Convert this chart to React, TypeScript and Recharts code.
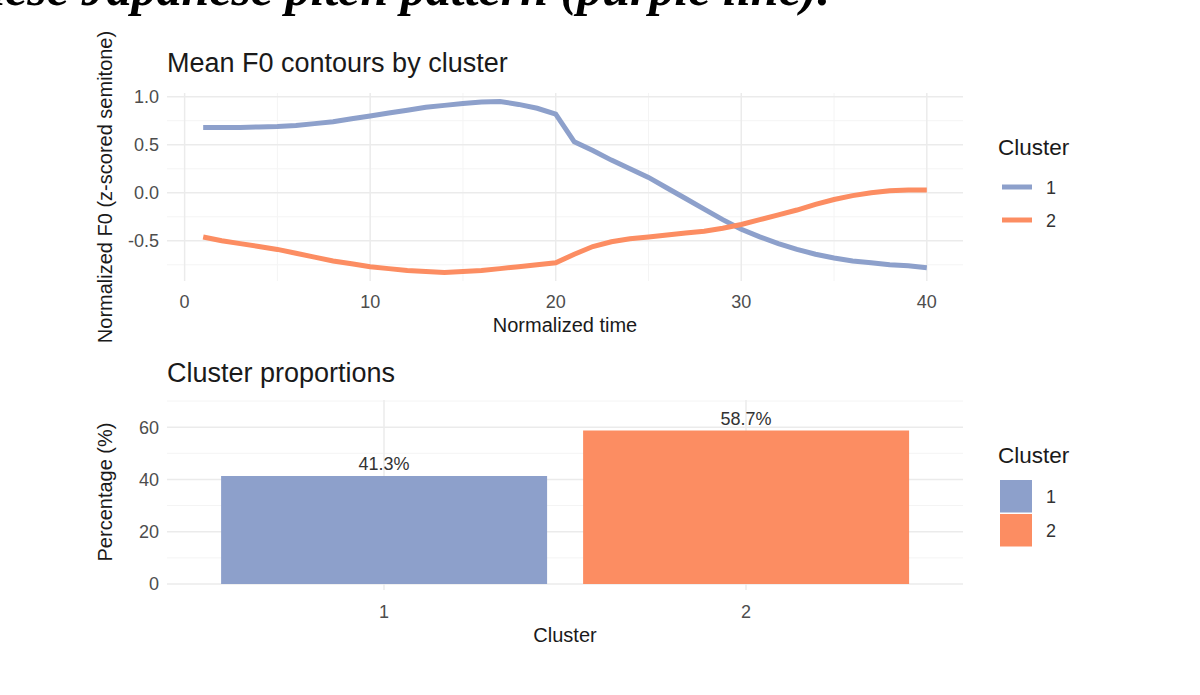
import React from 'react';
import { LineChart, Line, XAxis, YAxis, CartesianGrid, BarChart, Bar, Cell, LabelList } from 'recharts';

const FONT = '"Liberation Sans", Arial, Helvetica, sans-serif';

const timePoints = [1, 2, 3, 4, 5, 6, 7, 8, 9, 10, 11, 12, 13, 14, 15, 16, 17, 18, 19, 20, 21, 22, 23, 24, 25, 26, 27, 28, 29, 30, 31, 32, 33, 34, 35, 36, 37, 38, 39, 40];
const cluster1F0 = [0.68, 0.68, 0.68, 0.685, 0.69, 0.70, 0.72, 0.74, 0.77, 0.80, 0.83, 0.86, 0.89, 0.91, 0.93, 0.945, 0.95, 0.92, 0.88, 0.82, 0.53, 0.44, 0.34, 0.25, 0.16, 0.05, -0.06, -0.17, -0.28, -0.38, -0.46, -0.53, -0.59, -0.64, -0.68, -0.71, -0.73, -0.75, -0.76, -0.78];
const cluster2F0 = [-0.46, -0.50, -0.53, -0.56, -0.59, -0.63, -0.67, -0.71, -0.74, -0.77, -0.79, -0.81, -0.82, -0.83, -0.82, -0.81, -0.79, -0.77, -0.75, -0.73, -0.64, -0.56, -0.51, -0.48, -0.46, -0.44, -0.42, -0.40, -0.37, -0.33, -0.28, -0.23, -0.18, -0.12, -0.07, -0.03, 0.0, 0.02, 0.03, 0.03];

const clusterLabels = ['1', '2'];
const clusterPercent = [41.3, 58.7];
const clusterColors = ['#8DA0CB', '#FC8D62'];

const timeTicks = [0, 10, 20, 30, 40];
const timeMinor = [5, 15, 25, 35];
const f0Ticks = [-0.5, 0, 0.5, 1.0];
const f0Minor = [-0.75, -0.25, 0.25, 0.75];
const pctTicks = [0, 20, 40, 60];
const pctMinor = [10, 30, 50, 70];

const lineData = timePoints.map((t, i) => ({ t, c1: cluster1F0[i], c2: cluster2F0[i] }));
const barData = clusterLabels.map((c, i) => ({ cluster: c, pct: clusterPercent[i] }));

const tickStyle = { fontSize: 18, fill: '#4d4d4d', fontFamily: FONT };
const MAJOR = '#ebebeb';
const MINOR = '#f4f4f4';

export default function App() {
  return (
    <div style={{ position: 'fixed', left: 0, top: 0, width: 1200, height: 695, background: '#fff', overflow: 'hidden' }}>
      <div style={{ position: 'absolute', left: 0, top: 0 }}>
        <LineChart width={1200} height={340} data={lineData} margin={{ top: 93, right: 237, bottom: 29, left: 107 }}>
          <CartesianGrid stroke={MINOR} strokeWidth={1} syncWithTicks horizontalValues={f0Minor} verticalValues={timeMinor} />
          <CartesianGrid stroke={MAJOR} strokeWidth={1.5} syncWithTicks horizontalValues={f0Ticks} verticalValues={timeTicks} />
          <XAxis
            dataKey="t"
            type="number"
            domain={[-0.95, 41.95]}
            allowDataOverflow
            ticks={timeTicks}
            interval={0}
            height={30}
            axisLine={false}
            tickLine={false}
            tickMargin={8}
            tick={tickStyle}
          />
          <YAxis
            type="number"
            domain={[-0.919, 1.039]}
            allowDataOverflow
            ticks={f0Ticks}
            interval={0}
            width={60}
            axisLine={false}
            tickLine={false}
            tick={tickStyle}
            tickFormatter={(v: number) => v.toFixed(1)}
          />
          <Line dataKey="c1" type="linear" stroke={clusterColors[0]} strokeWidth={5} dot={false} isAnimationActive={false} />
          <Line dataKey="c2" type="linear" stroke={clusterColors[1]} strokeWidth={5} dot={false} isAnimationActive={false} />
        </LineChart>
      </div>

      <div style={{ position: 'absolute', left: 0, top: 340 }}>
        <BarChart width={1200} height={355} data={barData} margin={{ top: 60, right: 237, bottom: 75, left: 107 }} barCategoryGap="5%">
          <CartesianGrid stroke={MINOR} strokeWidth={1} vertical={false} syncWithTicks horizontalValues={pctMinor} />
          <CartesianGrid stroke={MAJOR} strokeWidth={1.5} syncWithTicks horizontalValues={pctTicks} />
          <XAxis
            dataKey="cluster"
            type="category"
            padding={{ left: 36, right: 36 }}
            height={30}
            axisLine={false}
            tickLine={false}
            tickMargin={9}
            tick={tickStyle}
          />
          <YAxis
            type="number"
            domain={[-2.3, 70.4]}
            allowDataOverflow
            ticks={pctTicks}
            interval={0}
            width={60}
            axisLine={false}
            tickLine={false}
            tick={tickStyle}
          />
          <Bar dataKey="pct" isAnimationActive={false}>
            {barData.map((d, i) => (
              <Cell key={d.cluster} fill={clusterColors[i]} />
            ))}
            <LabelList
              dataKey="pct"
              position="top"
              offset={6}
              formatter={(v: number) => `${v}%`}
              fill="#333"
              fontSize={18}
              fontFamily={FONT}
            />
          </Bar>
        </BarChart>
      </div>

      <svg style={{ position: 'absolute', left: 0, top: 0, pointerEvents: 'none' }} width={1200} height={695}>
        <text x={830} y={5} textAnchor="end" fontFamily='"Liberation Serif", "DejaVu Serif", serif' fontWeight="bold" fontStyle="italic" fontSize={50} fill="#000">
          these Japanese pitch pattern (purple line).
        </text>

        <text x={167} y={72} fontFamily={FONT} fontSize={27} fill="#1a1a1a">Mean F0 contours by cluster</text>
        <text x={565} y={332} textAnchor="middle" fontFamily={FONT} fontSize={20} fill="#1a1a1a">Normalized time</text>
        <text x={112} y={187} textAnchor="middle" transform="rotate(-90 112 187)" fontFamily={FONT} fontSize={20} fill="#1a1a1a">
          Normalized F0 (z-scored semitone)
        </text>

        <text x={998} y={155} fontFamily={FONT} fontSize={22.5} fill="#1a1a1a">Cluster</text>
        <line x1={1002} x2={1032} y1={187} y2={187} stroke={clusterColors[0]} strokeWidth={5} />
        <line x1={1002} x2={1032} y1={220} y2={220} stroke={clusterColors[1]} strokeWidth={5} />
        <text x={1046} y={193.5} fontFamily={FONT} fontSize={18} fill="#333">{clusterLabels[0]}</text>
        <text x={1046} y={226.5} fontFamily={FONT} fontSize={18} fill="#333">{clusterLabels[1]}</text>

        <text x={167} y={382} fontFamily={FONT} fontSize={27} fill="#1a1a1a">Cluster proportions</text>
        <text x={565} y={642} textAnchor="middle" fontFamily={FONT} fontSize={20} fill="#1a1a1a">Cluster</text>
        <text x={112} y={492} textAnchor="middle" transform="rotate(-90 112 492)" fontFamily={FONT} fontSize={20} fill="#1a1a1a">
          Percentage (%)
        </text>

        <text x={998} y={463} fontFamily={FONT} fontSize={22.5} fill="#1a1a1a">Cluster</text>
        <rect x={1000} y={480} width={32} height={32.5} fill={clusterColors[0]} />
        <rect x={1000} y={514} width={32} height={32.5} fill={clusterColors[1]} />
        <text x={1046} y={502.5} fontFamily={FONT} fontSize={18} fill="#333">{clusterLabels[0]}</text>
        <text x={1046} y={537} fontFamily={FONT} fontSize={18} fill="#333">{clusterLabels[1]}</text>
      </svg>
    </div>
  );
}
